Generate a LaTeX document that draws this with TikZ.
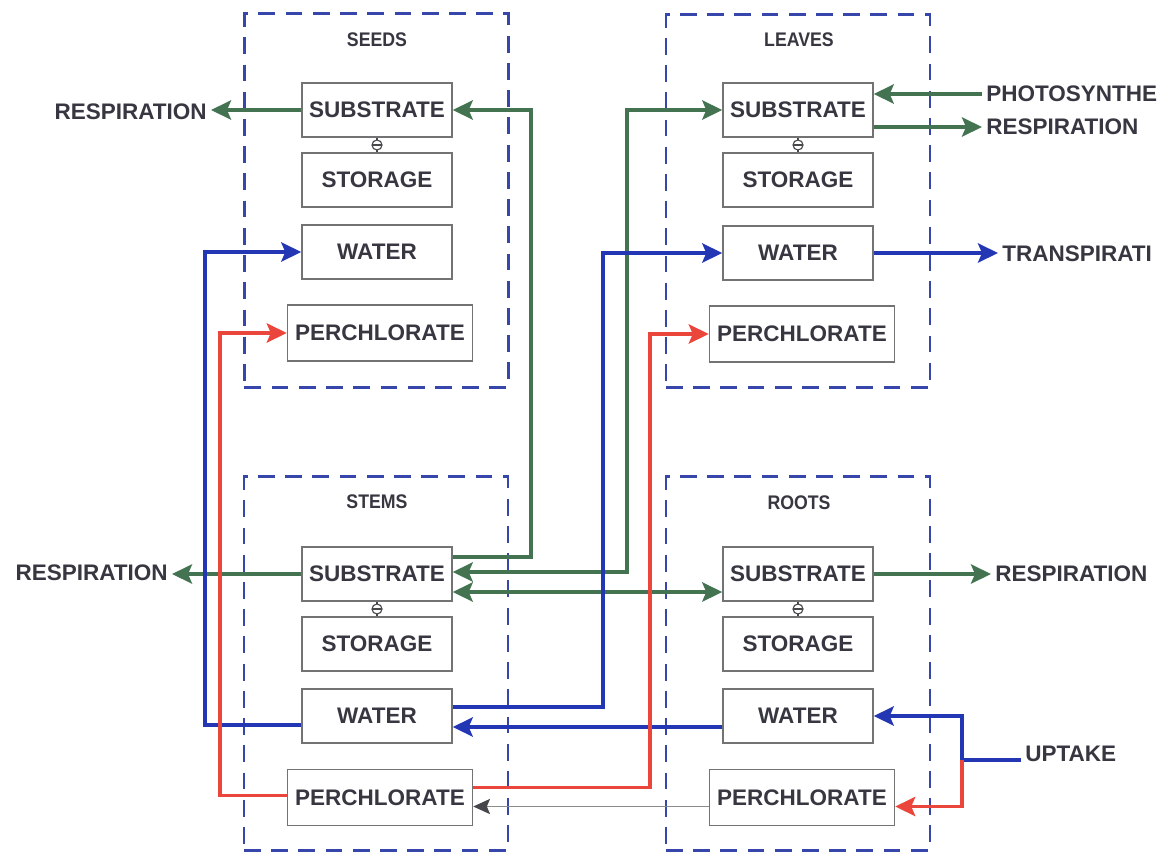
\documentclass[tikz,border=0pt]{standalone}
\usepackage{fontspec}
\setmainfont{Liberation Sans}
\newfontfamily\titlefont[FakeStretch=0.9]{Liberation Sans}
\usetikzlibrary{arrows.meta}
\definecolor{cgreen}{RGB}{68,115,82}
\definecolor{cblue}{RGB}{35,55,180}
\definecolor{cred}{RGB}{235,70,60}
\definecolor{cdash}{RGB}{55,70,170}
\definecolor{cbox}{RGB}{115,115,115}
\definecolor{ctext}{RGB}{55,55,65}
\definecolor{cgrayline}{RGB}{140,140,140}
\definecolor{cgrayhead}{RGB}{70,70,75}
\begin{document}
\begin{tikzpicture}[x=0.025cm, y=-0.025cm,
  >={Stealth[length=0.5cm,width=0.48cm,inset=0.1cm]},
  box/.style={draw=cbox, line width=1pt, minimum width=3.75cm, minimum height=1.35cm, inner sep=0pt, text=ctext, font=\fontsize{16}{18}\selectfont\bfseries},
  pbox/.style={box, minimum width=4.625cm, minimum height=1.4cm},
  group/.style={draw=cdash, line width=2pt, dash pattern=on 0.42cm off 0.26cm, minimum width=6.6cm, minimum height=9.33cm, inner sep=0pt},
  title/.style={text=ctext, font=\titlefont\fontsize{14}{16}\selectfont\bfseries, inner sep=0pt},
  lab/.style={text=ctext, font=\fontsize{16}{18}\selectfont\bfseries, inner sep=0.1cm},
  flow/.style={line width=2.4pt, ->},
  gflow/.style={flow, draw=cgreen},
  gboth/.style={gflow, <->},
  bflow/.style={flow, draw=cblue},
  rflow/.style={flow, draw=cred},
  grayflow/.style={draw=cgrayline, line width=1pt, -{Stealth[length=0.42cm,width=0.38cm,inset=0.08cm,color=cgrayhead]}},
  link/.style={draw=cgrayhead, line width=0.8pt},
  knob/.style={circle, draw=cgrayhead, line width=0.8pt, fill=white, inner sep=0pt, minimum size=0.25cm,
    path picture={\draw[cgrayhead, line width=0.8pt] (path picture bounding box.west) -- (path picture bounding box.east);}}
]
\fill[white] (0,0) rectangle (1170,857);
\useasboundingbox (0,0) rectangle (1170,857);

% compartments
\node[group] (gS) at (376.5,200.5) {};
\node[group] (gL) at (798,201) {};
\node[group] (gT) at (376,663.5) {};
\node[group] (gR) at (798,663.5) {};
\node[title] (tS) at (377,40) {SEEDS};
\node[title] (tL) at (799,40) {LEAVES};
\node[title] (tT) at (377,502) {STEMS};
\node[title] (tR) at (799,503) {ROOTS};

% pools
\node[box] (sSub) at (377,110) {SUBSTRATE};
\node[box] (sSto) at (377,180) {STORAGE};
\node[box] (sWat) at (377,252) {WATER};
\node[pbox] (sPer) at (380,333) {PERCHLORATE};
\node[box] (lSub) at (798,110) {SUBSTRATE};
\node[box] (lSto) at (798,180) {STORAGE};
\node[box] (lWat) at (798,253) {WATER};
\node[pbox] (lPer) at (802,334) {PERCHLORATE};
\node[box] (tSub) at (377,574) {SUBSTRATE};
\node[box] (tSto) at (377,644) {STORAGE};
\node[box] (tWat) at (377,716) {WATER};
\node[pbox] (tPer) at (380,797.5) {PERCHLORATE};
\node[box] (rSub) at (798,574) {SUBSTRATE};
\node[box] (rSto) at (798,644) {STORAGE};
\node[box] (rWat) at (798,716) {WATER};
\node[pbox] (rPer) at (802,797.5) {PERCHLORATE};

% external labels
\node[lab, anchor=east] (respS) at (211,112) {RESPIRATION};
\node[lab, anchor=east] (respT) at (172,573) {RESPIRATION};
\node[lab, anchor=west] (photo) at (982,94) {PHOTOSYNTHE};
\node[lab, anchor=west] (respL) at (982,127) {RESPIRATION};
\node[lab, anchor=west] (transp) at (998,254) {TRANSPIRATI};
\node[lab, anchor=west] (respR) at (991,574) {RESPIRATION};
\node[lab, anchor=west] (upt) at (1021,754) {UPTAKE};

% substrate-storage links
\draw[link] (sSub.south) -- node[knob]{} (sSto.north);
\draw[link] (lSub.south) -- node[knob]{} (lSto.north);
\draw[link] (tSub.south) -- node[knob]{} (tSto.north);
\draw[link] (rSub.south) -- node[knob]{} (rSto.north);

% substrate flows
\draw[gflow] (sSub.west) -- (respS.east |- sSub.west);
\draw[gflow] ([yshift=0.425cm]tSub.east) -| (531,110) -- (sSub.east);
\draw[gboth] ([yshift=0.05cm]tSub.east) -| (627,110) -- (lSub.west);
\draw[gboth] ([yshift=-0.45cm]tSub.east) -- ([yshift=-0.45cm]rSub.west);
\draw[gflow] (tSub.west) -- (respT.east |- tSub.west);
\draw[gflow] (rSub.east) -- (respR.west |- rSub.east);
\draw[gflow] (photo.west) -- (lSub.east |- photo.west);
\draw[gflow] (lSub.east |- respL.west) -- (respL.west);

% water flows
\draw[bflow] (lWat.east) -- (transp.west |- lWat.east);
\draw[bflow] ([yshift=-0.225cm]tWat.west) -| (205,252) -- (sWat.west);
\draw[bflow] ([yshift=0.225cm]tWat.east) -| (603,253) -- (lWat.west);
\draw[bflow] ([yshift=-0.275cm]rWat.west) -- ([yshift=-0.275cm]tWat.east);
\coordinate (junc) at (962,760);
\draw[bflow] (upt.west |- junc) -- (junc) |- (rWat.east);

% perchlorate flows
\draw[rflow] (junc) |- ([yshift=-0.225cm]rPer.east);
\draw[grayflow] ([yshift=-0.225cm]rPer.west) -- ([yshift=-0.225cm]tPer.east);
\draw[rflow] ([yshift=0.25cm]tPer.east) -| (650,334) -- (lPer.west);
\draw[rflow] ([yshift=0.05cm]tPer.west) -| (220,333) -- (sPer.west);
\end{tikzpicture}
\end{document}
